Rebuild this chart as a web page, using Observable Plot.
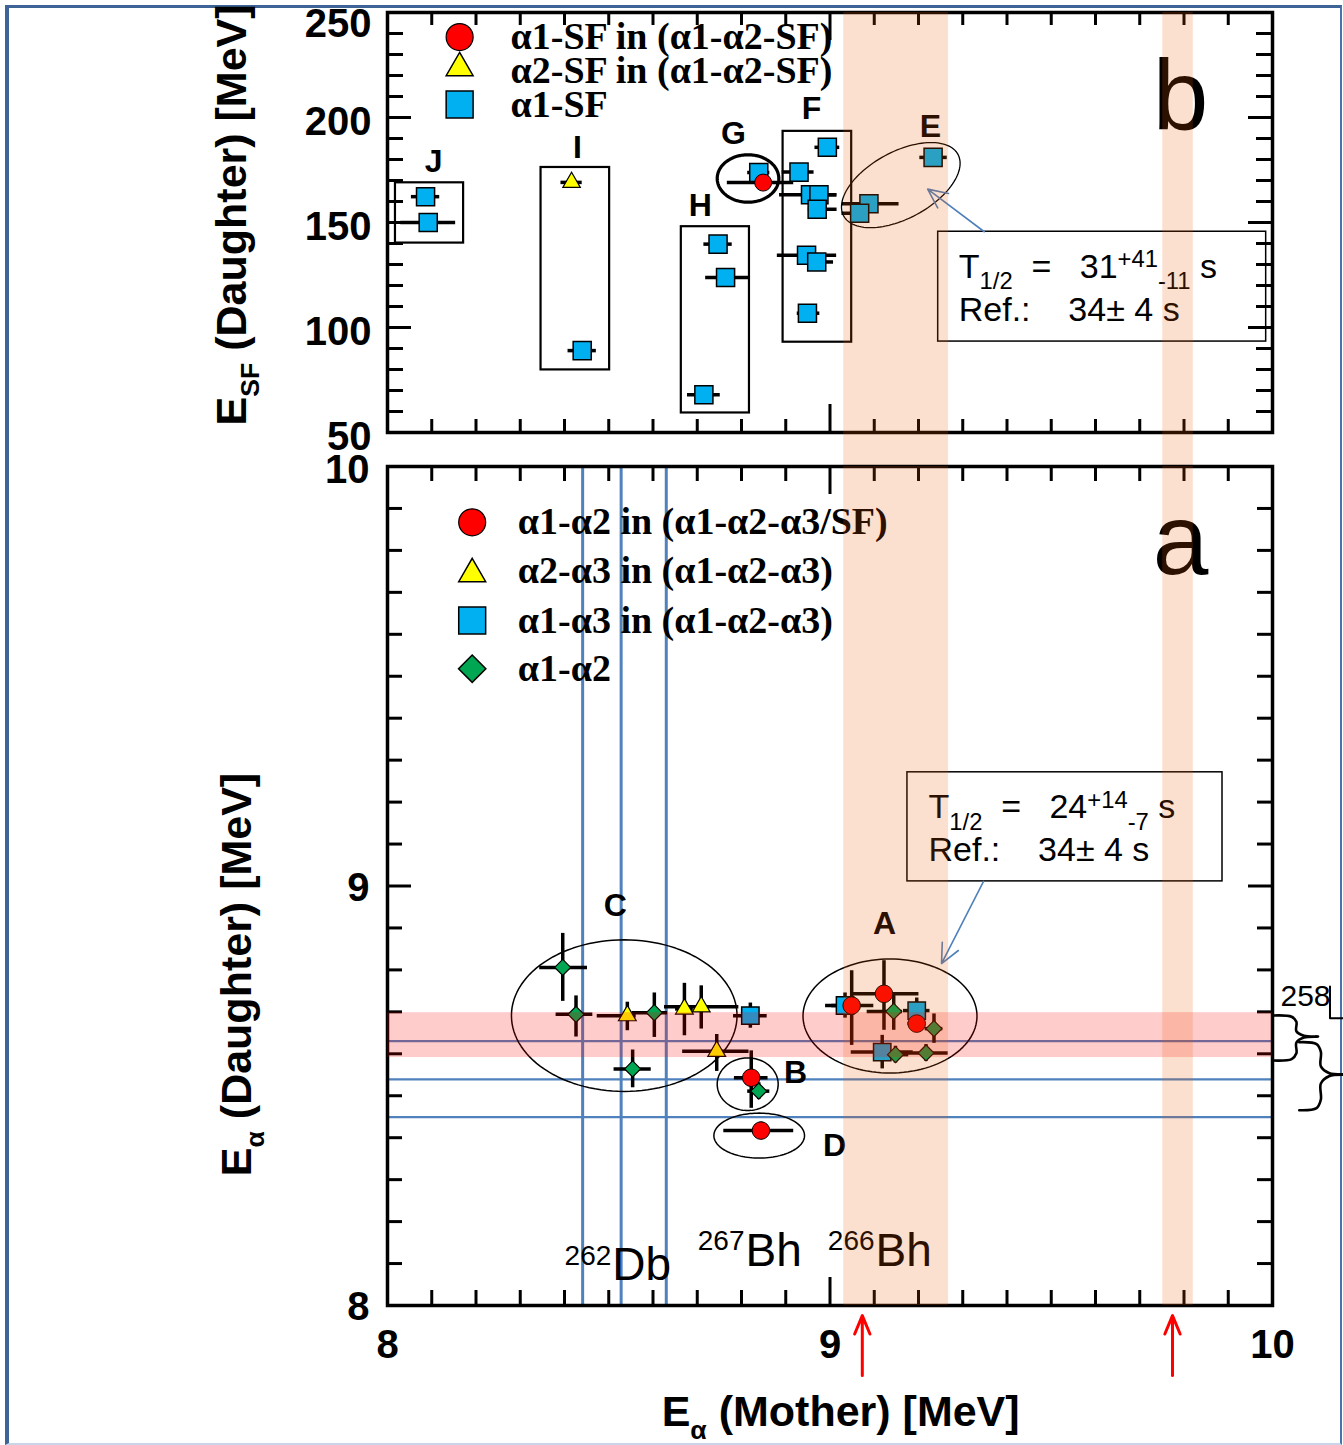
<!DOCTYPE html>
<html>
<head>
<meta charset="utf-8">
<script src="https://cdn.jsdelivr.net/npm/d3@7"></script>
<script src="https://cdn.jsdelivr.net/npm/@observablehq/plot@0.6"></script>
<style>
  html, body { margin: 0; padding: 0; background: #fff; }
  #fig { position: relative; width: 1343px; height: 1445px; overflow: hidden; background: #fff; }
  #fig svg { position: absolute; left: 0; }
  #fig svg text { white-space: pre; }
  #border { position: absolute; left: 5px; top: 5px; width: 1337px; height: 1440px; box-sizing: border-box;
            border-left: 4px solid #3E6497; border-top: 3px solid #3E6497; border-right: 2px solid #4A72AC; border-bottom: 2px solid #C9D5E8; }
</style>
</head>
<body>
<div id="fig"><div id="border"></div></div>
<script>
// ================= DATA =================
// ---- Panel b : E_SF (daughter) vs E_alpha (mother) ----
// alpha1-SF (squares)
const bSqX   = [8.086, 8.092, 8.440, 8.747, 8.764, 8.715, 8.839, 8.994, 8.930, 8.956, 8.975, 8.971, 8.947, 8.970, 8.949, 9.233, 9.088, 9.067];
const bSqY   = [162.3, 150.0,  89.0, 139.7, 123.8,  68.0, 173.8, 185.8, 174.0, 163.2, 163.2, 156.3, 134.4, 131.2, 106.8, 181.0, 158.9, 154.4];
const bSqXlo = [0.032, 0.062, 0.032, 0.032, 0.045, 0.037, 0.025, 0.028, 0.038, 0.070, 0.020, 0.020, 0.066, 0.029, 0.023, 0.030, 0.060, 0.040];
const bSqXhi = [0.032, 0.062, 0.032, 0.032, 0.052, 0.037, 0.025, 0.028, 0.034, 0.060, 0.040, 0.045, 0.068, 0.038, 0.028, 0.032, 0.068, 0.020];
// alpha1-SF in (alpha1-alpha2-SF) (circle)
const bCircX = [8.849], bCircY = [169.0], bCircXlo = [0.081], bCircXhi = [0.069];
// alpha2-SF in (alpha1-alpha2-SF) (triangle)
const bTriX = [8.416], bTriY = [169.1], bTriXlo = [0.024], bTriXhi = [0.024];

// group boxes (J, I, H, F)
const bBoxNames = ["J", "I", "H", "F"];
const bBoxX1 = [8.018, 8.347, 8.664, 8.894];
const bBoxX2 = [8.172, 8.502, 8.818, 9.049];
const bBoxY1 = [140.2,  79.8,  59.3,  93.0];
const bBoxY2 = [168.9, 176.2, 148.0, 193.4];
// group ellipses (G, E)
const bEllNames = ["G", "E"];
const bEllCx = [8.8147, 9.160];
const bEllCy = [170.96, 167.8];
const bEllRx = [0.0696, 0.1467];
const bEllRy = [11.3, 15.9];
const bEllRot = [0, 28.3];
// group letters
const bLetters = ["J", "I", "H", "G", "F", "E"];
const bLetterX = [8.104, 8.429, 8.707, 8.782, 8.958, 9.227];
const bLetterY = [178.9, 185.6, 157.9, 192.3, 204.3, 195.7];
// legend
const bLegendLabels = ["α1-SF in (α1-α2-SF)", "α2-SF in (α1-α2-SF)", "α1-SF"];
const bLegendY = [238.3, 222.1, 206.2];
const bTickLabels = [50, 100, 150, 200];
const bTopTickLabel = [250];

// ---- Panel a : E_alpha (daughter) vs E_alpha (mother) ----
// alpha1-alpha2 in (alpha1-alpha2-alpha3/SF) (circles)
const aCircX   = [9.049, 9.122, 9.196, 8.822, 8.844];
const aCircY   = [8.715, 8.743, 8.672, 8.543, 8.417];
const aCircXlo = [0.059, 0.075, 0.020, 0.038, 0.084];
const aCircXhi = [0.050, 0.079, 0.020, 0.038, 0.074];
const aCircYlo = [0.095, 0.087, 0.020, 0.073, 0.020];
const aCircYhi = [0.083, 0.079, 0.020, 0.064, 0.020];
// alpha2-alpha3 in (alpha1-alpha2-alpha3) (triangles)
const aTriX   = [8.542, 8.671, 8.709, 8.744];
const aTriY   = [8.691, 8.707, 8.712, 8.606];
const aTriXlo = [0.068, 0.020, 0.083, 0.077];
const aTriXhi = [0.020, 0.020, 0.085, 0.073];
const aTriYlo = [0.036, 0.064, 0.053, 0.048];
const aTriYhi = [0.032, 0.061, 0.050, 0.040];
// alpha1-alpha3 in (alpha1-alpha2-alpha3) (squares)
const aSqX   = [8.820, 9.034, 9.196, 9.118];
const aSqY   = [8.691, 8.715, 8.703, 8.604];
const aSqXlo = [0.038, 0.030, 0.030, 0.070];
const aSqXhi = [0.038, 0.030, 0.030, 0.070];
const aSqYlo = [0.030, 0.030, 0.030, 0.040];
const aSqYhi = [0.030, 0.030, 0.030, 0.040];
// alpha1-alpha2 (diamonds)
const aDiaX   = [8.396, 8.426, 8.603, 8.554, 8.839, 9.144, 9.235, 9.148, 9.217];
const aDiaY   = [8.806, 8.694, 8.698, 8.564, 8.511, 8.701, 8.660, 8.598, 8.602];
const aDiaXlo = [0.052, 0.045, 0.050, 0.042, 0.025, 0.060, 0.020, 0.030, 0.050];
const aDiaXhi = [0.056, 0.038, 0.030, 0.042, 0.025, 0.020, 0.020, 0.030, 0.050];
const aDiaYlo = [0.081, 0.054, 0.059, 0.045, 0.020, 0.045, 0.035, 0.020, 0.020];
const aDiaYhi = [0.081, 0.044, 0.047, 0.045, 0.020, 0.045, 0.035, 0.020, 0.020];
// reference lines
const aVLines = [8.441, 8.528, 8.630];
const aHLines = [8.630, 8.539, 8.449];
const aPinkBand = [8.591, 8.698];
// group ellipses (C, A, B, D)
const aEllNames = ["C", "A", "B", "D"];
const aEllCx = [8.535, 9.1356, 8.814, 8.840];
const aEllCy = [8.691, 8.690, 8.5275, 8.405];
const aEllRx = [0.2549, 0.1966, 0.0689, 0.1024];
const aEllRy = [0.1807, 0.1359, 0.0627, 0.0536];
// group letters
const aLetters = ["C", "A", "B", "D"];
const aLetterX = [8.515, 9.123, 8.922, 9.010];
const aLetterY = [8.953, 8.910, 8.556, 8.381];
// isotopes
const isoMass = ["262", "267", "266"];
const isoSym  = ["Db", "Bh", "Bh"];
const isoX    = [8.508, 8.809, 9.103];
const isoY    = [8.095, 8.129, 8.129];
// legend
const aLegendLabels = ["α1-α2 in (α1-α2-α3/SF)", "α2-α3 in (α1-α2-α3)", "α1-α3 in (α1-α2-α3)", "α1-α2"];
const aLegendY = [9.867, 9.752, 9.633, 9.518];
const aTickLabels = [8, 9];
const aTopTickLabel = [10];
const xTickLabels = [8, 9, 10];

// shared: shaded bands and red arrows (E_alpha mother)
const bandLo = [9.031, 9.752];
const bandHi = [9.268, 9.821];
const redArrowX = [9.073, 9.774];

// ================= STYLE / GEOMETRY =================
const FONT = "'Liberation Sans', Arial, Helvetica, sans-serif";
const SERIF = "'Liberation Serif', 'Times New Roman', serif";
const NARROW = "'Liberation Sans Narrow', 'Arial Narrow', 'Liberation Sans', sans-serif";
const RED = "#FF0000", YELLOW = "#FFFF00", CYAN = "#00B0F0", GREEN = "#00A651", LBLUE = "#4F81BD";
const ORANGE = "#E85C00";
const fmt = d => String(d);

const W = 1343, ML = 387, MR = 71, FW = W - ML - MR, KX = FW / 2;
const B_H = 466, B_MT = 12, B_MB = 34, B_FH = B_H - B_MT - B_MB, B_KY = B_FH / 200;
const A_TOP = 426, A_H = 1019, A_MT = 40, A_MB = 140, A_FH = A_H - A_MT - A_MB, A_KY = A_FH / 2;

function pts(xs, ys, xlo, xhi, ylo, yhi) {
  return xs.map((x, i) => ({x, y: ys[i], xlo: xlo ? xlo[i] : 0, xhi: xhi ? xhi[i] : 0, ylo: ylo ? ylo[i] : 0, yhi: yhi ? yhi[i] : 0}));
}
function errMarks(data, sw = 3.5) {
  return [
    Plot.ruleY(data.filter(d => d.xlo || d.xhi), {y: "y", x1: d => d.x - d.xlo, x2: d => d.x + d.xhi, stroke: "black", strokeWidth: sw}),
    Plot.ruleX(data.filter(d => d.ylo || d.yhi), {x: "x", y1: d => d.y - d.ylo, y2: d => d.y + d.yhi, stroke: "black", strokeWidth: sw})
  ];
}
function ellipsePts(names, cx, cy, rx, ry, rot, kx, ky) {
  const out = [];
  names.forEach((id, k) => {
    const a = rx[k] * kx, b = ry[k] * ky, th = (rot ? rot[k] : 0) * Math.PI / 180;
    for (let i = 0; i <= 120; i++) {
      const t = i / 120 * 2 * Math.PI;
      const px = a * Math.cos(t) * Math.cos(th) - b * Math.sin(t) * Math.sin(th);
      const py = a * Math.cos(t) * Math.sin(th) + b * Math.sin(t) * Math.cos(th);
      out.push({id, x: cx[k] + px / kx, y: cy[k] + py / ky});
    }
  });
  return out;
}
function frameTicks(FH, xMinor, xMajor, yMinor, yMajor, lx, lxM, ly, lyM) {
  const st = {stroke: "black", strokeWidth: 3};
  return [
    Plot.tickX(xMinor, {x: d => d, insetTop: FH - lx, ...st}),
    Plot.tickX(xMinor, {x: d => d, insetBottom: FH - lx, ...st}),
    Plot.tickX(xMajor, {x: d => d, insetTop: FH - lxM, ...st}),
    Plot.tickX(xMajor, {x: d => d, insetBottom: FH - lxM, ...st}),
    Plot.tickY(yMinor, {y: d => d, insetRight: FW - ly, ...st}),
    Plot.tickY(yMinor, {y: d => d, insetLeft: FW - ly, ...st}),
    Plot.tickY(yMajor, {y: d => d, insetRight: FW - lyM, ...st}),
    Plot.tickY(yMajor, {y: d => d, insetLeft: FW - lyM, ...st})
  ];
}
function bracePts(id, x0, xm, xt, yTop, yTip, yBot) {
  const dx = xm - x0, h1 = yTop - yTip, h2 = yTip - yBot;
  return [
    [x0, yTop], [xm - 0.2 * dx, yTop - 0.06 * h1], [xm, yTop - 0.3 * h1], [xm, yTip + 0.25 * h1],
    [xm + 0.35 * (xt - xm), yTip + 0.04 * h1], [xt, yTip], [xm + 0.35 * (xt - xm), yTip - 0.04 * h2],
    [xm, yTip - 0.25 * h2], [xm, yBot + 0.3 * h2], [xm - 0.2 * dx, yBot + 0.06 * h2], [x0, yBot]
  ].map(([x, y]) => ({id, x, y}));
}

const xMinorTicks = d3.range(81, 100).filter(i => i !== 90).map(i => i / 10);
const xMajorTicks = [9];
const bYMinor = d3.range(60, 250, 10).filter(v => v % 50 !== 0);
const bYMajor = [100, 150, 200];
const aYMinor = d3.range(81, 100).filter(i => i !== 90).map(i => i / 10);
const aYMajor = [9];

const RICH = new Map([
  ["E_SF (Daughter) [MeV]", {fs: 43, sub: 0.3, sup: 0.35, size: 0.62, parts: [["E"], ["SF", "sub"], [" (Daughter) [MeV]"]]}],
  ["E_α (Daughter) [MeV]", {fs: 43, sub: 0.3, sup: 0.35, size: 0.62, parts: [["E"], ["α", "sub"], [" (Daughter) [MeV]"]]}],
  ["E_α (Mother) [MeV]", {fs: 43, sub: 0.3, sup: 0.35, size: 0.62, parts: [["E"], ["α", "sub"], [" (Mother) [MeV]"]]}],
  ["T_1/2 = 31^+41_-11 s", {fs: 34, sub: 0.33, sup: 0.3, size: 0.7, parts: [["T"], ["1/2", "sub"], ["  =   31"], ["+41", "sup"], ["-11", "sub"], [" s"]]}],
  ["T_1/2 = 24^+14_-7 s", {fs: 34, sub: 0.33, sup: 0.3, size: 0.7, parts: [["T"], ["1/2", "sub"], ["  =   24"], ["+14", "sup"], ["-7", "sub"], [" s"]]}]
]);
function applyRich(svg) {
  const NS = "http://www.w3.org/2000/svg";
  svg.querySelectorAll("text").forEach(t => {
    const spec = RICH.get(t.textContent);
    if (!spec) return;
    t.textContent = "";
    let cur = 0;
    for (const [s, kind] of spec.parts) {
      const ts = document.createElementNS(NS, "tspan");
      const target = kind === "sub" ? spec.fs * spec.sub : kind === "sup" ? -spec.fs * spec.sup : 0;
      ts.setAttribute("dy", String(target - cur));
      cur = target;
      if (kind) ts.setAttribute("font-size", String(spec.fs * spec.size));
      ts.textContent = s;
      t.appendChild(ts);
    }
  });
}

const tickLabelStyle = {tickSize: 0, fontSize: 40, fontWeight: "bold", fontFamily: FONT, label: null, tickFormat: fmt};

// ================= PANEL b =================
const bSq = pts(bSqX, bSqY, bSqXlo, bSqXhi);
const bCirc = pts(bCircX, bCircY, bCircXlo, bCircXhi);
const bTri = pts(bTriX, bTriY, bTriXlo, bTriXhi);
const bBoxes = bBoxNames.map((n, i) => ({n, x1: bBoxX1[i], x2: bBoxX2[i], y1: bBoxY1[i], y2: bBoxY2[i]}));
const bEll = ellipsePts(bEllNames, bEllCx, bEllCy, bEllRx, bEllRy, bEllRot, KX, B_KY);
const bands = bandLo.map((lo, i) => ({lo, hi: bandHi[i]}));

const plotB = Plot.plot({
  width: W, height: B_H,
  marginLeft: ML, marginRight: MR, marginTop: B_MT, marginBottom: B_MB,
  x: {domain: [8, 10], axis: null},
  y: {domain: [50, 250]},
  style: {background: "transparent"},
  marks: [
    Plot.rect(bBoxes, {x1: "x1", x2: "x2", y1: "y1", y2: "y2", fill: "none", stroke: "black", strokeWidth: 2.2}),
    Plot.line(bEll.filter(d => d.id === "G"), {x: "x", y: "y", stroke: "black", strokeWidth: 3.2}),
    Plot.line(bEll.filter(d => d.id === "E"), {x: "x", y: "y", stroke: "black", strokeWidth: 1.3}),
    ...errMarks(bSq), ...errMarks(bCirc), ...errMarks(bTri),
    Plot.dot(bSq, {x: "x", y: "y", symbol: "square", r: 10.2, fill: CYAN, stroke: "black", strokeWidth: 1.5}),
    Plot.dot(bCirc, {x: "x", y: "y", symbol: "circle", r: 8.5, fill: RED, stroke: "black", strokeWidth: 1}),
    Plot.dot(bTri, {x: "x", y: "y", symbol: "triangle", r: 6.5, fill: YELLOW, stroke: "black", strokeWidth: 1.2}),
    // legend
    Plot.dot([bLegendLabels[0]], {x: 8.163, y: bLegendY[0], symbol: "circle", r: 13.5, fill: RED, stroke: "black", strokeWidth: 1.2}),
    Plot.dot([bLegendLabels[1]], {x: 8.163, y: bLegendY[1] + 1.5, symbol: "triangle", r: 10, fill: YELLOW, stroke: "black", strokeWidth: 1.5}),
    Plot.dot([bLegendLabels[2]], {x: 8.163, y: bLegendY[2], symbol: "square", r: 15.2, fill: CYAN, stroke: "black", strokeWidth: 1.5}),
    Plot.text(bLegendLabels, {x: 8.278, y: (d, i) => bLegendY[i], text: d => d, textAnchor: "start", fontFamily: SERIF, fontWeight: "bold", fontSize: 38}),
    // group letters
    Plot.text(bLetters, {x: (d, i) => bLetterX[i], y: (d, i) => bLetterY[i], text: d => d, fontFamily: FONT, fontWeight: "bold", fontSize: 32}),
    Plot.text(["b"], {x: 9.792, y: 209.1, text: d => d, fontFamily: FONT, fontSize: 100}),
    // annotation box
    Plot.rect([0], {x1: 9.2445, x2: 9.9857, y1: 93.3, y2: 145.6, fill: "none", stroke: "black", strokeWidth: 1.5}),
    Plot.text(["T_1/2 = 31^+41_-11 s", "Ref.:    34± 4 s"], {x: 9.291, y: (d, i) => [128.9, 108.1][i], text: d => d, textAnchor: "start", fontFamily: FONT, fontSize: 34}),
    Plot.arrow([0], {x1: 9.3487, y1: 145.6, x2: 9.2207, y2: 165.9, stroke: LBLUE, strokeWidth: 1.6, headLength: 20, headAngle: 50}),
    // frame, ticks, labels
    Plot.frame({stroke: "black", strokeWidth: 3.5}),
    ...frameTicks(B_FH, xMinorTicks, xMajorTicks, bYMinor, bYMajor, 13, 28, 16, 24),
    Plot.axisY(bTickLabels, {anchor: "left", tickPadding: 16, dy: 5, ...tickLabelStyle}),
    Plot.axisY(bTopTickLabel, {anchor: "left", tickPadding: 16, dy: 12, ...tickLabelStyle}),
    Plot.text(["E_SF (Daughter) [MeV]"], {x: 7.650, y: 153.6, text: d => d, rotate: -90, fontFamily: FONT, fontWeight: "bold", fontSize: 43}),
    // shaded bands (overlay)
    Plot.rect(bands, {x1: "lo", x2: "hi", y1: 50 - B_MB / B_KY, y2: 250, fill: ORANGE, fillOpacity: 0.19})
  ]
});

// ================= PANEL a =================
const aCirc = pts(aCircX, aCircY, aCircXlo, aCircXhi, aCircYlo, aCircYhi);
const aTri = pts(aTriX, aTriY, aTriXlo, aTriXhi, aTriYlo, aTriYhi);
const aSq = pts(aSqX, aSqY, aSqXlo, aSqXhi, aSqYlo, aSqYhi);
const aDia = pts(aDiaX, aDiaY, aDiaXlo, aDiaXhi, aDiaYlo, aDiaYhi);
const aEll = ellipsePts(aEllNames, aEllCx, aEllCy, aEllRx, aEllRy, null, KX, A_KY);
const braces = [
  ...bracePts("b1", 10.0, 10.054, 10.103, 8.6913, 8.6412, 8.584),
  ...bracePts("b2", 10.0605, 10.1093, 10.165, 8.6277, 8.5506, 8.4654)
];

const plotA = Plot.plot({
  width: W, height: A_H,
  marginLeft: ML, marginRight: MR, marginTop: A_MT, marginBottom: A_MB,
  x: {domain: [8, 10]},
  y: {domain: [8, 10]},
  style: {background: "transparent"},
  marks: [
    Plot.ruleX(aVLines, {x: d => d, y1: 8, y2: 10, stroke: LBLUE, strokeWidth: 3}),
    Plot.ruleY(aHLines, {y: d => d, x1: 8, x2: 10, stroke: LBLUE, strokeWidth: 2.2}),
    Plot.line(aEll, {x: "x", y: "y", z: "id", stroke: "black", strokeWidth: 1.5}),
    ...errMarks(aSq), ...errMarks(aCirc), ...errMarks(aTri), ...errMarks(aDia),
    Plot.dot(aSq, {x: "x", y: "y", symbol: "square", r: 9.8, fill: CYAN, stroke: "black", strokeWidth: 1.5}),
    Plot.dot(aCirc, {x: "x", y: "y", symbol: "circle", r: 8.8, fill: RED, stroke: "black", strokeWidth: 1}),
    Plot.dot(aTri, {x: "x", y: "y", symbol: "triangle", r: 6.6, fill: YELLOW, stroke: "black", strokeWidth: 1.2}),
    Plot.dot(aDia, {x: "x", y: "y", symbol: "diamond2", r: 7.2, fill: GREEN, stroke: "black", strokeWidth: 1.2}),
    // legend
    Plot.dot([aLegendLabels[0]], {x: 8.1914, y: aLegendY[0], symbol: "circle", r: 13.5, fill: RED, stroke: "black", strokeWidth: 1.2}),
    Plot.dot([aLegendLabels[1]], {x: 8.1914, y: aLegendY[1] - 0.008, symbol: "triangle", r: 10, fill: YELLOW, stroke: "black", strokeWidth: 1.5}),
    Plot.dot([aLegendLabels[2]], {x: 8.1914, y: aLegendY[2], symbol: "square", r: 15.2, fill: CYAN, stroke: "black", strokeWidth: 1.5}),
    Plot.dot([aLegendLabels[3]], {x: 8.1914, y: aLegendY[3], symbol: "diamond2", r: 12.3, fill: GREEN, stroke: "black", strokeWidth: 1.5}),
    Plot.text(aLegendLabels, {x: 8.2945, y: (d, i) => aLegendY[i], text: d => d, textAnchor: "start", fontFamily: SERIF, fontWeight: "bold", fontSize: 38}),
    // group letters
    Plot.text(aLetters, {x: (d, i) => aLetterX[i], y: (d, i) => aLetterY[i], text: d => d, fontFamily: FONT, fontWeight: "bold", fontSize: 32}),
    Plot.text(["a"], {x: 9.792, y: 9.819, text: d => d, fontFamily: FONT, fontSize: 100}),
    // isotopes
    Plot.text(isoSym, {x: (d, i) => isoX[i], y: (d, i) => isoY[i], text: d => d, textAnchor: "start", fontFamily: NARROW, fontSize: 46}),
    Plot.text(isoMass, {x: (d, i) => isoX[i], y: (d, i) => isoY[i], text: d => d, textAnchor: "end", dx: -1, dy: -10, fontFamily: NARROW, fontSize: 28}),
    // annotation box
    Plot.rect([0], {x1: 9.175, x2: 9.887, y1: 9.011, y2: 9.271, fill: "none", stroke: "black", strokeWidth: 1.5}),
    Plot.text(["T_1/2 = 24^+14_-7 s", "Ref.:    34± 4 s"], {x: 9.2226, y: (d, i) => [9.187, 9.085][i], text: d => d, textAnchor: "start", fontFamily: FONT, fontSize: 34}),
    Plot.arrow([0], {x1: 9.347, y1: 9.011, x2: 9.252, y2: 8.815, stroke: LBLUE, strokeWidth: 1.6, headLength: 20, headAngle: 50}),
    // right-side braces
    Plot.line(braces, {x: "x", y: "y", z: "id", curve: "catmull-rom", stroke: "black", strokeWidth: 2.6}),
    Plot.line([{x: 10.1299, y: 8.7604}, {x: 10.1299, y: 8.6849}, {x: 10.165, y: 8.6849}], {x: "x", y: "y", stroke: "black", strokeWidth: 2}),
    Plot.text(["258"], {x: 10.018, y: 8.7366, text: d => d, textAnchor: "start", fontFamily: NARROW, fontSize: 30}),
    // red arrows
    Plot.arrow(redArrowX, {x1: d => d, x2: d => d, y1: 7.833, y2: 7.976, stroke: RED, strokeWidth: 3, headLength: 16, headAngle: 45}),
    // frame, ticks, axes
    Plot.frame({stroke: "black", strokeWidth: 3.5}),
    ...frameTicks(A_FH, xMinorTicks, xMajorTicks, aYMinor, aYMajor, 15, 28, 15, 24),
    Plot.axisY(aTickLabels, {anchor: "left", tickPadding: 18, dy: 2, ...tickLabelStyle}),
    Plot.axisY(aTopTickLabel, {anchor: "left", tickPadding: 18, dy: 4, ...tickLabelStyle}),
    Plot.axisX(xTickLabels, {anchor: "bottom", tickPadding: 24, ...tickLabelStyle}),
    Plot.text(["E_α (Daughter) [MeV]"], {x: 7.661, y: 8.789, text: d => d, rotate: -90, fontFamily: FONT, fontWeight: "bold", fontSize: 43}),
    Plot.text(["E_α (Mother) [MeV]"], {x: 9.024, y: 7.745, text: d => d, fontFamily: FONT, fontWeight: "bold", fontSize: 43}),
    // overlays
    Plot.rect([aPinkBand], {x1: 8, x2: 10, y1: d => d[0], y2: d => d[1], fill: RED, fillOpacity: 0.2}),
    Plot.rect(bands, {x1: "lo", x2: "hi", y1: 8, y2: 10, fill: ORANGE, fillOpacity: 0.19})
  ]
});

applyRich(plotB);
applyRich(plotA);
plotB.style.top = "0px";
plotA.style.top = A_TOP + "px";
const fig = document.getElementById("fig");
fig.append(plotB, plotA);
</script>
</body>
</html>
